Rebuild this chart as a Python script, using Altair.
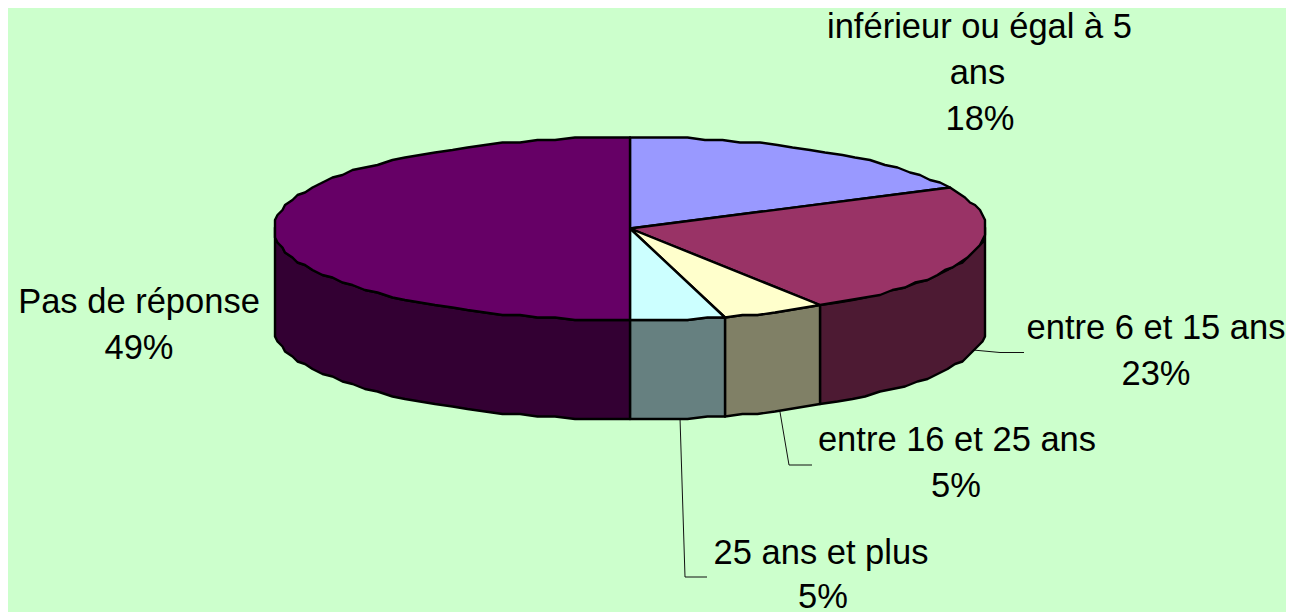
import math
import altair as alt

# --- data ---
categories = ["inférieur ou égal à 5 ans", "entre 6 et 15 ans", "entre 16 et 25 ans", "25 ans et plus", "Pas de réponse"]
shares = [17.7, 23.3, 4.7, 4.3, 50.0]          # drawn sweep of each slice, percent
top_colors = ["#9999FF", "#993366", "#FFFFCC", "#CCFFFF", "#660066"]
side_colors = ["#4D1A33", "#4D1A33", "#808066", "#668080", "#330033"]

label_lines = ["inférieur ou égal à 5", "ans", "18%", "entre 6 et 15 ans", "23%",
               "entre 16 et 25 ans", "5%", "25 ans et plus", "5%", "Pas de réponse", "49%"]
label_x = [979.5, 977.5, 980, 1156, 1156, 957, 956, 821, 823, 139, 139]
label_y = [38, 84, 130, 339, 385, 451, 497, 564, 608, 313, 359]

leaders = [
    [[973, 350], [1000, 352.5], [1024, 352.5]],
    [[780, 412], [789, 465], [812, 465]],
    [[680, 418], [685, 577], [707, 577]],
]

# --- pie geometry (layout) ---
CX, CY, RX, RY, DEPTH = 630, 228.5, 356, 91.5, 99
W, H = 1278, 604
GRID = 2.5


def pt(deg, dy=0):
    a = math.radians(deg)
    x = CX + RX * math.sin(a)
    y = CY - RY * math.cos(a)
    return [round(x / GRID) * GRID, round(y / GRID) * GRID + dy]


def arc(a0, a1, dy=0, step=3):
    n = max(1, int(round((a1 - a0) / step)))
    return [pt(a0 + (a1 - a0) * i / n, dy) for i in range(n + 1)]


def feature(ring, fill):
    return {"type": "Feature", "properties": {"fill": fill},
            "geometry": {"type": "Polygon", "coordinates": [ring + [ring[0]]]}}


side_features, top_features = [], []
start = 0.0
for share, top, side in zip(shares, top_colors, side_colors):
    end = start + share * 3.6
    top_features.append(feature([[CX, CY]] + arc(start, end), top))
    lo, hi = max(start, 90.0), min(end, 270.0)
    if hi > lo:
        side_features.append(feature(arc(lo, hi) + arc(lo, hi, DEPTH)[::-1], side))
    start = end

leader_features = [{"type": "Feature", "properties": {},
                    "geometry": {"type": "LineString", "coordinates": c}} for c in leaders]


def shapes(features):
    return (alt.Chart(alt.Data(values=features))
            .mark_geoshape(stroke="black", strokeWidth=2.4, strokeJoin="round")
            .encode(fill=alt.Fill("properties.fill:N", scale=None))
            .project(type="identity", scale=1, translate=[-8, -8]))


sides = shapes(side_features)
tops = shapes(top_features)
lines = (alt.Chart(alt.Data(values=leader_features))
         .mark_geoshape(filled=False, stroke="#111111", strokeWidth=1)
         .project(type="identity", scale=1, translate=[-8, -8]))

labels = (alt.Chart(alt.Data(values=[{"t": t, "x": x, "y": y}
                                     for t, x, y in zip(label_lines, label_x, label_y)]))
          .mark_text(font="Liberation Sans", fontSize=34.5, color="black",
                     align="center", baseline="alphabetic")
          .encode(x=alt.X("x:Q", axis=None, scale=alt.Scale(domain=[8, 8 + W], nice=False, zero=False)),
                  y=alt.Y("y:Q", axis=None, scale=alt.Scale(domain=[8 + H, 8], nice=False, zero=False)),
                  text="t:N"))

chart = (alt.layer(lines, sides, tops, labels)
         .resolve_scale(fill="independent")
         .properties(width=W, height=H, padding=0, background="#CCFFCC")
         .configure_view(stroke=None))

chart.save("out.html", embed_options={"renderer": "svg", "actions": False})
